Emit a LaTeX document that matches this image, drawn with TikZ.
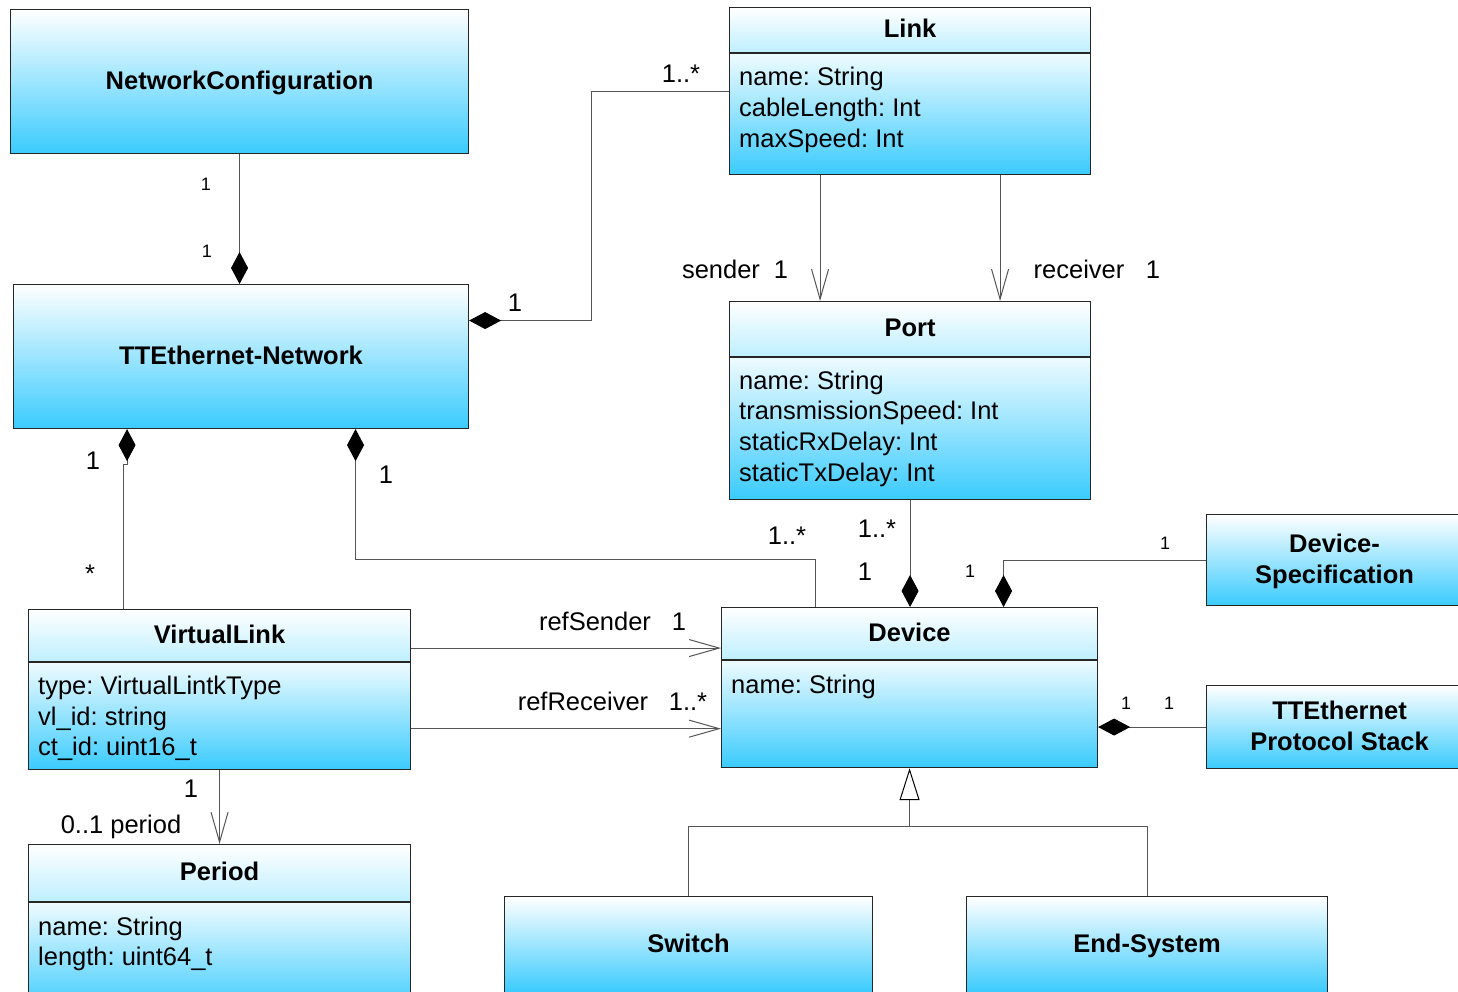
\documentclass[tikz,border=0pt]{standalone}
\usepackage{fontspec}
\setmainfont{Liberation Sans}
\usetikzlibrary{arrows.meta}
\frenchspacing

\definecolor{sky}{RGB}{58,203,253}
\definecolor{skyhead}{RGB}{190,239,255}
\definecolor{skypale}{RGB}{238,251,255}
\definecolor{wire}{RGB}{85,85,85}

\tikzset{
  frame/.style={draw=black!85, line width=1.1pt, inner sep=0pt, anchor=north west},
  whole/.style={frame, top color=white, bottom color=sky, align=center,
    font=\bfseries\fontsize{25.5}{31}\selectfont, text height=15pt, text depth=0pt},
  head/.style={frame, top color=white, bottom color=skyhead,
    font=\bfseries\fontsize{25.5}{31}\selectfont, text height=15pt, text depth=0pt},
  body/.style={frame, top color=skypale, bottom color=sky},
  attr/.style={anchor=base west, inner sep=0pt, font=\fontsize{25.5}{31}\selectfont},
  multbig/.style={anchor=base, inner sep=0pt, font=\fontsize{25.5}{31}\selectfont},
  multsmall/.style={anchor=base, inner sep=0pt, font=\fontsize{18}{22}\selectfont},
  wireline/.style={draw=wire, line width=1pt},
  diamondend/.style={wireline, -{Diamond[length=32pt,width=17pt,color=black,fill=black]}},
  diamondstart/.style={wireline, {Diamond[length=32pt,width=17pt,color=black,fill=black]}-},
  navig/.style={wireline, -{Straight Barb[length=30pt,width=17pt]}},
  inherit/.style={wireline, -{Triangle[open,length=32pt,width=20pt,fill=white,color=black]}},
}

\begin{document}
\begin{tikzpicture}[x=1pt,y=1pt]
\clip (0,0) rectangle (1458,-991);
\fill[white] (0,0) rectangle (1458,-991);

% ---- classes ----
\node[whole, minimum width=458, minimum height=144] (netcfg) at (10,-9) {NetworkConfiguration};
\node[whole, minimum width=455, minimum height=144] (ttenet) at (13,-284) {TTEthernet-Network};

\node[head, minimum width=361, minimum height=45] (linkH) at (729,-7) {Link};
\node[body, minimum width=361, minimum height=121] (linkB) at (linkH.south west) {};
\node[attr] (linkA1) at (739,-85) {name: String};
\node[attr] (linkA2) at (739,-116) {cableLength: Int};
\node[attr] (linkA3) at (739,-147) {maxSpeed: Int};

\node[head, minimum width=361, minimum height=55] (portH) at (729,-301) {Port};
\node[body, minimum width=361, minimum height=142] (portB) at (portH.south west) {};
\node[attr] (portA1) at (739,-389) {name: String};
\node[attr] (portA2) at (739,-419) {transmissionSpeed: Int};
\node[attr] (portA3) at (739,-450) {staticRxDelay: Int};
\node[attr] (portA4) at (739,-481) {staticTxDelay: Int};

\node[head, minimum width=376, minimum height=52] (devH) at (721,-607) {Device};
\node[body, minimum width=376, minimum height=107] (devB) at (devH.south west) {};
\node[attr] (devA1) at (731,-693) {name: String};

\node[head, minimum width=382, minimum height=52] (vlH) at (28,-609) {VirtualLink};
\node[body, minimum width=382, minimum height=107] (vlB) at (vlH.south west) {};
\node[attr] (vlA1) at (38,-694) {type: VirtualLintkType};
\node[attr] (vlA2) at (38,-725) {vl\_id: string};
\node[attr] (vlA3) at (38,-755) {ct\_id: uint16\_t};

\node[head, minimum width=382, minimum height=57] (perH) at (28,-844) {Period};
\node[body, minimum width=382, minimum height=110] (perB) at (perH.south west) {};
\node[attr] (perA1) at (38,-935) {name: String};
\node[attr] (perA2) at (38,-965) {length: uint64\_t};

\node[whole, text height=46pt, minimum width=256, minimum height=91] (devspec) at (1206,-514) {Device-\\Specification};
\node[whole, text height=46pt, minimum width=266, minimum height=83] (stack) at (1206,-685) {TTEthernet\\Protocol Stack};

\node[whole, minimum width=368, minimum height=96] (switch) at (504,-896) {Switch};
\node[whole, minimum width=361, minimum height=96] (endsys) at (966,-896) {End-System};

% ---- associations ----
\draw[diamondend] (netcfg.south) -- (netcfg.south |- ttenet.north);
\draw[diamondstart] ([yshift=36pt]ttenet.east) -| ([xshift=-138pt,yshift=22.5pt]linkB.west) -- ([yshift=22.5pt]linkB.west);
\draw[navig] ([xshift=-90pt]linkB.south) -- ([xshift=-90pt]portH.north);
\draw[navig] ([xshift=90pt]linkB.south) -- ([xshift=90pt]portH.north);
\draw[diamondstart] ([xshift=-114pt]ttenet.south) -- ++(0,-35) -| ([xshift=-96pt]vlH.north);
\draw[diamondstart] ([xshift=114.5pt]ttenet.south) |- ([xshift=-94pt,yshift=48pt]devH.north) -- ([xshift=-94pt]devH.north);
\draw[diamondend] (portB.south) -- (portB.south |- devH.north);
\draw[diamondend] (devspec.west) -| ([xshift=94pt]devH.north);
\draw[diamondend] (stack.west) -- (stack.west -| devB.east);
\draw[navig] ([yshift=-12.5pt]vlH.east) -- ([yshift=-12.5pt]vlH.east -| devH.west);
\draw[navig] ([yshift=-12.5pt]vlB.east) -- ([yshift=-12.5pt]vlB.east -| devB.west);
\draw[navig] (vlB.south) -- (perH.north);

% ---- generalization ----
\coordinate (fork) at ([yshift=-58pt]devB.south);
\draw[wireline] (switch.north) |- (fork) -| (endsys.north);
\draw[inherit] (fork) -- (devB.south);

% ---- multiplicities and role names ----
\node[multsmall] (m1) at (206,-190.5) {1};
\node[multsmall] (m2) at (207,-257.5) {1};
\node[multbig] (m3) at (681,-82) {1..*};
\node[multbig] (m4) at (515,-311) {1};
\node[multbig] (r1) at (721,-278) {sender};
\node[multbig] (m5) at (781,-278) {1};
\node[multbig] (r2) at (1079,-278) {receiver};
\node[multbig] (m6) at (1153,-278) {1};
\node[multbig] (m7) at (93,-469) {1};
\node[multbig] (m8) at (90,-582) {*};
\node[multbig] (m9) at (386,-483) {1};
\node[multbig] (m10) at (787,-544) {1..*};
\node[multbig] (m11) at (877,-537) {1..*};
\node[multbig] (m12) at (865,-580) {1};
\node[multsmall] (m13) at (1165,-549.5) {1};
\node[multsmall] (m14) at (970,-577.5) {1};
\node[multsmall] (m15) at (1126,-709.5) {1};
\node[multsmall] (m16) at (1169,-709.5) {1};
\node[multbig] (r3) at (595,-630) {refSender};
\node[multbig] (m17) at (679,-630) {1};
\node[multbig] (r4) at (583,-710) {refReceiver};
\node[multbig] (m18) at (688,-710) {1..*};
\node[multbig] (m19) at (191,-797) {1};
\node[multbig] (r5) at (121,-833) {0..1 period};
\end{tikzpicture}
\end{document}
